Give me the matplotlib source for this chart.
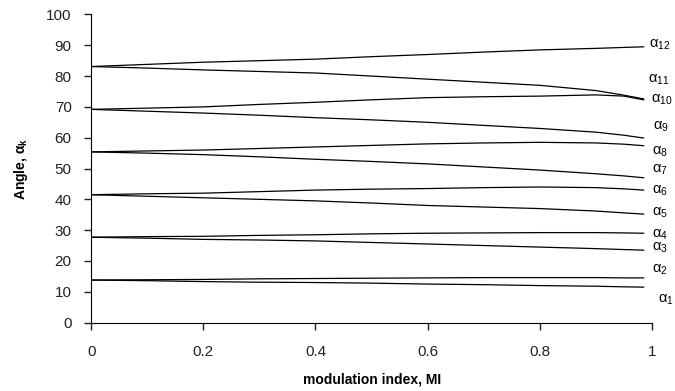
import numpy as np
import matplotlib
matplotlib.use("Agg")
import matplotlib.pyplot as plt

plt.rcParams['font.family'] = ['Liberation Sans', 'DejaVu Sans']
plt.rcParams['mathtext.fontset'] = 'custom'
plt.rcParams['mathtext.rm'] = 'Liberation Sans'
plt.rcParams['mathtext.it'] = 'Liberation Sans'
plt.rcParams['mathtext.bf'] = 'Liberation Sans:bold'

# modulation index
MI = [0, 0.1, 0.2, 0.3, 0.4, 0.5, 0.6, 0.7, 0.8, 0.9, 0.95, 0.985]

# switching angles alpha_1 .. alpha_12 (degrees)
a1  = [13.8, 13.6, 13.3, 13.1, 13.0, 12.8, 12.5, 12.3, 12.0, 11.8, 11.6, 11.5]
a2  = [13.8, 13.9, 14.0, 14.2, 14.3, 14.4, 14.5, 14.6, 14.6, 14.6, 14.5, 14.5]
a3  = [27.7, 27.4, 27.0, 26.8, 26.5, 26.0, 25.5, 25.0, 24.5, 24.0, 23.7, 23.5]
a4  = [27.7, 27.9, 28.0, 28.3, 28.5, 28.8, 29.0, 29.1, 29.2, 29.2, 29.1, 29.0]
a5  = [41.5, 41.0, 40.5, 40.0, 39.5, 38.8, 38.0, 37.5, 37.0, 36.2, 35.6, 35.2]
a6  = [41.5, 41.8, 42.0, 42.5, 43.0, 43.3, 43.5, 43.8, 44.0, 43.8, 43.4, 43.0]
a7  = [55.4, 55.0, 54.5, 53.8, 53.0, 52.3, 51.5, 50.5, 49.5, 48.3, 47.6, 47.0]
a8  = [55.4, 55.7, 56.0, 56.5, 57.0, 57.5, 58.0, 58.3, 58.5, 58.3, 57.9, 57.4]
a9  = [69.2, 68.6, 68.0, 67.3, 66.5, 65.8, 65.0, 64.0, 63.0, 61.8, 60.8, 59.9]
a10 = [69.2, 69.6, 70.0, 70.8, 71.5, 72.3, 73.0, 73.3, 73.5, 73.9, 73.5, 72.3]
a11 = [83.1, 82.6, 82.0, 81.5, 81.0, 80.0, 79.0, 78.0, 77.0, 75.3, 73.8, 72.6]
a12 = [83.1, 83.8, 84.5, 85.0, 85.5, 86.3, 87.0, 87.8, 88.5, 89.0, 89.3, 89.5]

angles = [a1, a2, a3, a4, a5, a6, a7, a8, a9, a10, a11, a12]
names = [r'α$_{%d}$' % (k + 1) for k in range(12)]
# where the labels sit (x in axis units, y in degrees)
label_x = [1.01, 1.0, 1.0, 1.0, 1.0, 1.0, 1.0, 1.0, 1.002, 0.998, 0.993, 0.995]
label_y = [7.4, 17.1, 24.3, 28.5, 35.6, 42.7, 49.5, 55.3, 63.4, 72.2, 78.7, 90.0]

fig = plt.figure(figsize=(6.75, 3.91), dpi=100)
ax = fig.add_axes([0.135, 0.175, 0.831, 0.788])

for a, name, lx, ly in zip(angles, names, label_x, label_y):
    ax.plot(MI, a, color='black', lw=0.9)
    ax.text(lx, ly, name, fontsize=10.5, va='center', ha='left', clip_on=False)

ax.set_xlim(0, 1)
ax.set_ylim(0, 100)
ax.set_xticks([0, 0.2, 0.4, 0.6, 0.8, 1])
ax.set_xticklabels(['0', '0.2', '0.4', '0.6', '0.8', '1'])
ax.set_yticks(np.arange(0, 101, 10))
ax.tick_params(direction='out', length=5, width=1, labelsize=11, colors='#222222')
ax.tick_params(axis='x', pad=11)
ax.tick_params(axis='y', pad=9)
ax.spines['top'].set_visible(False)
ax.spines['right'].set_visible(False)
ax.set_xlabel('modulation index, MI', fontsize=10, fontweight='bold', labelpad=10)
ax.set_ylabel(r'Angle, α$_\mathbf{k}$', fontsize=10, fontweight='bold', labelpad=12)

fig.savefig('out.png', dpi=100)
